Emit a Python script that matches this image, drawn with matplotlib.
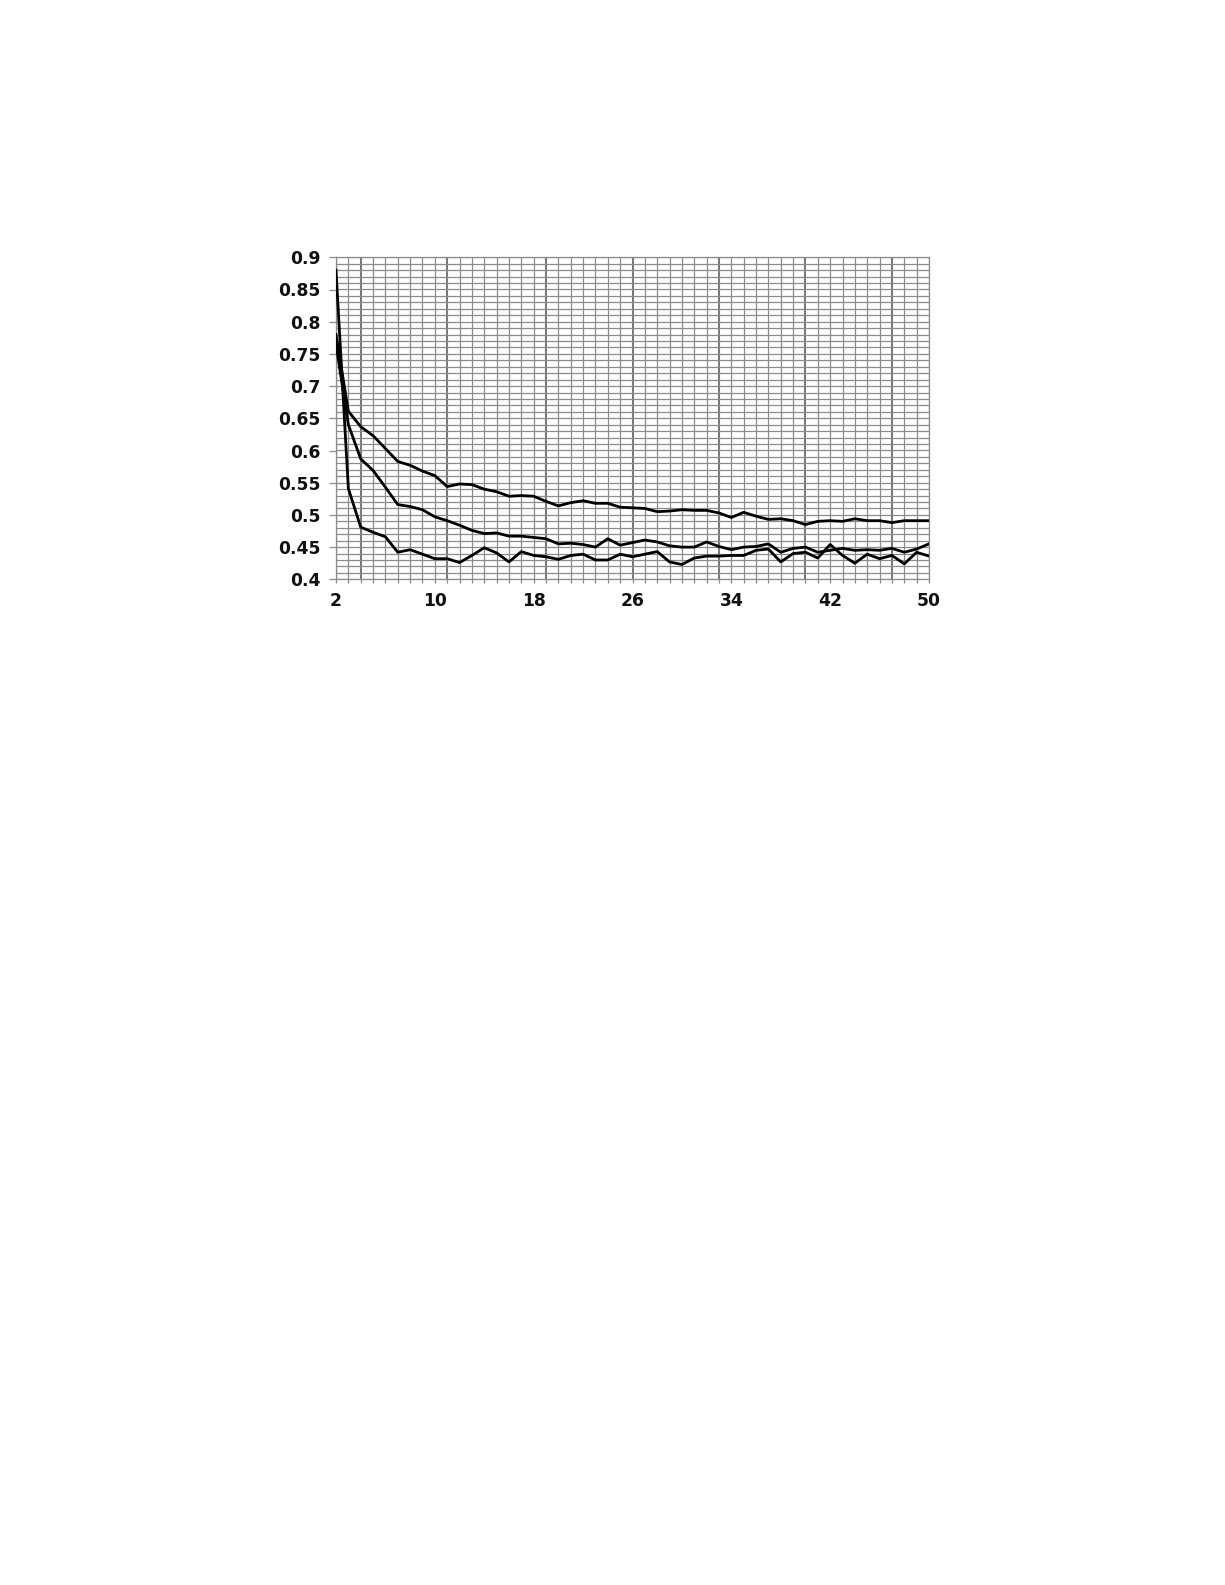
import matplotlib
matplotlib.use("Agg")
import matplotlib.pyplot as plt
import numpy as np

plt.rcParams["font.family"] = ["DejaVu Sans"]
plt.rcParams["font.weight"] = "bold"

x_values = list(range(2, 51))

series_top = [0.780, 0.661, 0.637, 0.623, 0.603, 0.583, 0.577, 0.568, 0.561, 0.544,
              0.548, 0.547, 0.540, 0.536, 0.529, 0.530, 0.529, 0.521, 0.514, 0.519,
              0.522, 0.518, 0.518, 0.512, 0.511, 0.510, 0.505, 0.506, 0.508, 0.507,
              0.507, 0.503, 0.496, 0.504, 0.498, 0.493, 0.494, 0.491, 0.485, 0.490,
              0.491, 0.490, 0.494, 0.491, 0.491, 0.488, 0.491, 0.491, 0.491]

series_mid = [0.765, 0.640, 0.587, 0.569, 0.543, 0.516, 0.513, 0.508, 0.497, 0.491,
              0.484, 0.476, 0.471, 0.472, 0.467, 0.467, 0.465, 0.463, 0.455, 0.456,
              0.454, 0.450, 0.463, 0.453, 0.457, 0.461, 0.458, 0.452, 0.450, 0.450,
              0.458, 0.451, 0.446, 0.450, 0.451, 0.455, 0.442, 0.448, 0.450, 0.442,
              0.445, 0.448, 0.445, 0.446, 0.445, 0.448, 0.442, 0.447, 0.455]

series_low = [0.880, 0.541, 0.481, 0.473, 0.466, 0.442, 0.446, 0.439, 0.432, 0.432,
              0.426, 0.437, 0.449, 0.441, 0.427, 0.443, 0.437, 0.435, 0.431, 0.437,
              0.439, 0.430, 0.430, 0.439, 0.435, 0.439, 0.443, 0.427, 0.423, 0.433,
              0.436, 0.436, 0.437, 0.437, 0.445, 0.447, 0.427, 0.440, 0.442, 0.433,
              0.454, 0.437, 0.425, 0.439, 0.432, 0.437, 0.424, 0.442, 0.436]

x_tick_labels = [2, 10, 18, 26, 34, 42, 50]
y_tick_labels = [0.4, 0.45, 0.5, 0.55, 0.6, 0.65, 0.7, 0.75, 0.8, 0.85, 0.9]
dark_grid_x = [4, 11, 19, 26, 33, 40, 47]

fig = plt.figure(figsize=(12.25, 15.85), dpi=100)
ax = fig.add_axes([336 / 1225, 1 - 579.3 / 1585, (929 - 336) / 1225, (579.3 - 257.3) / 1585])

ax.set_xlim(2, 50)
ax.set_ylim(0.4, 0.9)

grid_color = "#8c8c8c"
for xv in x_values:
    c = "#7a7a7a" if xv in dark_grid_x else grid_color
    lw = 1.5 if xv in dark_grid_x else 0.9
    ax.axvline(xv, color=c, lw=lw, zorder=1)
for yv in np.arange(0.40, 0.9001, 0.01):
    ax.axhline(yv, color=grid_color, lw=0.9, zorder=1)

for s in (series_top, series_mid, series_low):
    ax.plot(x_values, s, color="black", lw=2.0, zorder=3, solid_joinstyle="round")

ax.set_xticks(x_tick_labels)
ax.set_xticklabels([str(v) for v in x_tick_labels])
ax.set_xticks(x_values, minor=True)
ax.set_yticks(y_tick_labels)
ax.set_yticklabels([f"{v:g}" for v in y_tick_labels])

ax.tick_params(axis="both", which="both", direction="out", color=grid_color, width=0.9,
               labelsize=12.3, labelcolor="#111111")
ax.tick_params(axis="x", which="both", length=3, pad=6)
ax.tick_params(axis="y", which="major", length=5, pad=6)
for lab in ax.get_xticklabels() + ax.get_yticklabels():
    lab.set_fontweight("bold")
    lab.set_fontfamily(["DejaVu Sans"])

for sp in ax.spines.values():
    sp.set_color(grid_color)
    sp.set_linewidth(0.9)

fig.savefig("out.png", dpi=100, facecolor="white")
